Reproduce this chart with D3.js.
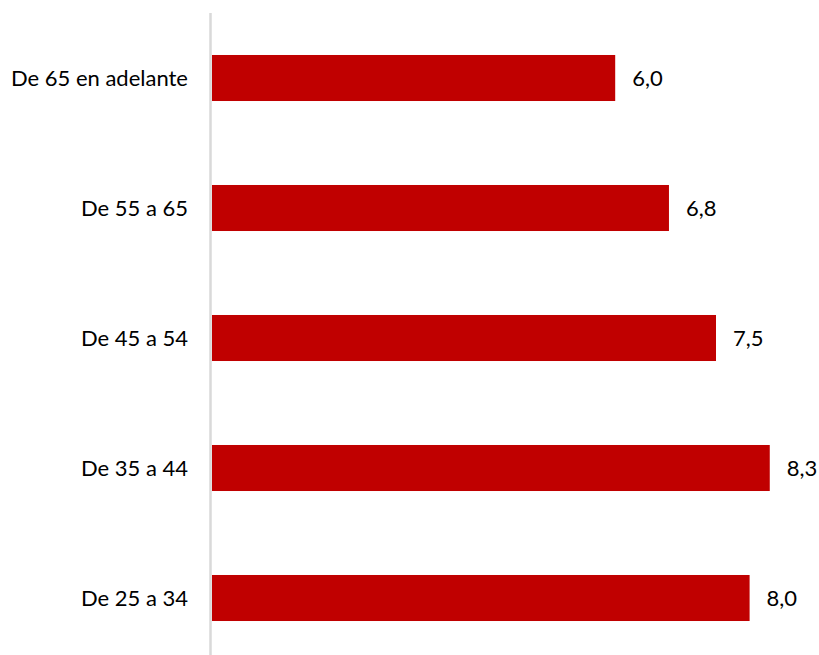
<!DOCTYPE html>
<html><head><meta charset="utf-8">
<script src="https://cdn.jsdelivr.net/npm/d3@7"></script>
<style>body{margin:0;background:#fff}</style>
</head><body>
<script>
const categories = ["De 65 en adelante","De 55 a 65","De 45 a 54","De 35 a 44","De 25 a 34"];
const values = [6.0, 6.8, 7.5, 8.3, 8.0];
const valueLabels = ["6,0","6,8","7,5","8,3","8,0"];

const W = 819, H = 655;
const FONT = "Lato, 'Open Sans', sans-serif";
const svg = d3.select("body").append("svg").attr("width", W).attr("height", H);
const x = d3.scaleLinear().domain([0, 10]).range([212, 884]);
const y = d3.scaleBand().domain(categories).range([13, 663]).paddingInner(0.646).paddingOuter(0.323);

svg.append("line").attr("x1", 210.5).attr("x2", 210.5).attr("y1", 13).attr("y2", H)
  .attr("stroke", "#d9d9d9").attr("stroke-width", 2.5);

svg.selectAll("rect.bar").data(values).join("rect").attr("class","bar")
  .attr("x", x(0)).attr("y", (d,i)=>y(categories[i]))
  .attr("width", d=>x(d)-x(0)).attr("height", y.bandwidth())
  .attr("fill", "#c00000");

svg.selectAll("text.val").data(values).join("text").attr("class","val")
  .attr("x", d=>x(d)+17).attr("y", (d,i)=>y(categories[i])+y.bandwidth()/2)
  .attr("dy","0.35em").attr("font-family",FONT).attr("font-size",22)
  .attr("fill","#000").text((d,i)=>valueLabels[i]);

svg.selectAll("text.cat").data(categories).join("text").attr("class","cat")
  .attr("x", 188).attr("y", d=>y(d)+y.bandwidth()/2)
  .attr("dy","0.35em").attr("text-anchor","end").attr("font-family",FONT).attr("font-size",22)
  .attr("fill","#000").text(d=>d);
</script>
</body></html>
